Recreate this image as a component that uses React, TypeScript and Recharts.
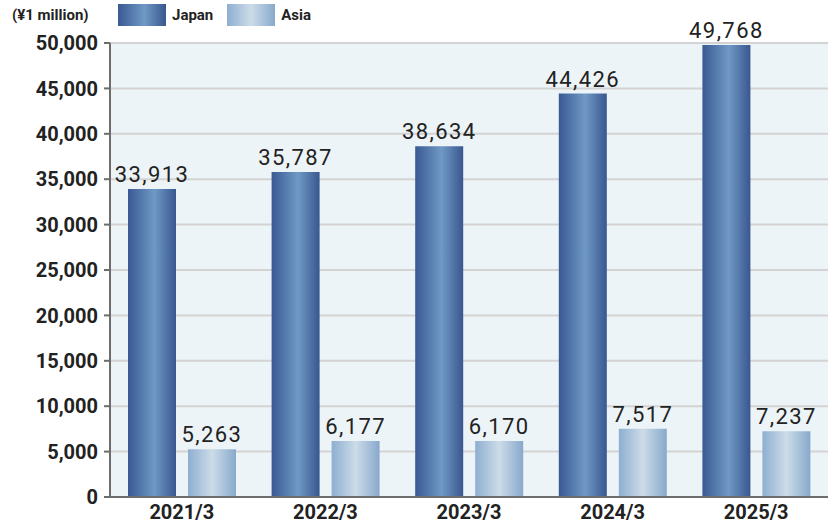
import { BarChart, Bar, XAxis, YAxis, CartesianGrid, LabelList } from 'recharts';

const years = ['2021/3', '2022/3', '2023/3', '2024/3', '2025/3'];
const japan = [33913, 35787, 38634, 44426, 49768];
const asia = [5263, 6177, 6170, 7517, 7237];
const yTicks = [0, 5000, 10000, 15000, 20000, 25000, 30000, 35000, 40000, 45000, 50000];
const bandTicks = [0, 1, 2, 3, 4, 5];

const data = years.map((year, i) => ({ year, Japan: japan[i], Asia: asia[i] }));

const FONT = 'Roboto, "Noto Sans", sans-serif';
const fmt = (v: number) => v.toLocaleString('en-US');

function Swatch({ id }: { id: string }) {
  return (
    <svg width={48} height={22} style={{ display: 'block' }}>
      <rect width={48} height={22} fill={`url(#${id})`} />
    </svg>
  );
}

export default function App() {
  return (
    <div style={{ position: 'absolute', left: 0, top: 0, width: 830, height: 530, fontFamily: FONT, background: '#fff' }}>
      <svg width={0} height={0} style={{ position: 'absolute' }}>
        <defs>
          <linearGradient id="gJapan" x1="0" y1="0" x2="1" y2="0">
            <stop offset="0%" stopColor="#395993" />
            <stop offset="55%" stopColor="#7099c5" />
            <stop offset="100%" stopColor="#38578f" />
          </linearGradient>
          <linearGradient id="gAsia" x1="0" y1="0" x2="1" y2="0">
            <stop offset="0%" stopColor="#8eaed1" />
            <stop offset="50%" stopColor="#ccdce8" />
            <stop offset="100%" stopColor="#88a9cc" />
          </linearGradient>
        </defs>
      </svg>

      <div style={{ position: 'absolute', left: 12, top: 5, fontSize: 15, fontWeight: 700, color: '#222', lineHeight: '20px' }}>
        (¥1 million)
      </div>
      <div style={{ position: 'absolute', left: 118, top: 4, display: 'flex', alignItems: 'center' }}>
        <Swatch id="gJapan" />
        <span style={{ fontSize: 15, fontWeight: 700, color: '#222', marginLeft: 6, marginRight: 14 }}>Japan</span>
        <Swatch id="gAsia" />
        <span style={{ fontSize: 15, fontWeight: 700, color: '#222', marginLeft: 6 }}>Asia</span>
      </div>

      <BarChart
        width={830}
        height={530}
        data={data}
        margin={{ top: 43, right: 2, bottom: 0, left: 0 }}
        barGap={12}
        barSize={48}
      >
        <CartesianGrid vertical={false} fill="#edf4f7" stroke="#d3d3d3" strokeWidth={2} />
        <XAxis
          xAxisId="band"
          type="number"
          domain={[0, 5]}
          ticks={bandTicks}
          interval={0}
          height={0}
          tick={false}
          axisLine={false}
          tickSize={8}
          tickLine={{ stroke: '#6d6d6d', strokeWidth: 2 }}
          allowDataOverflow
        />
        <XAxis
          dataKey="year"
          height={33}
          tickLine={false}
          axisLine={{ stroke: '#6d6d6d', strokeWidth: 2 }}
          tick={{ fill: '#222', fontSize: 20, fontWeight: 700, fontFamily: FONT }}
          tickMargin={2}
        />
        <YAxis
          width={110}
          domain={[0, 50000]}
          ticks={yTicks}
          interval={0}
          tickFormatter={fmt}
          tickSize={6}
          tickMargin={6}
          axisLine={{ stroke: '#6d6d6d', strokeWidth: 2 }}
          tickLine={{ stroke: '#6d6d6d', strokeWidth: 2 }}
          tick={{ fill: '#222', fontSize: 20, fontWeight: 700, fontFamily: FONT }}
        />
        <Bar dataKey="Japan" fill="url(#gJapan)" isAnimationActive={false}>
          <LabelList
            dataKey="Japan"
            position="top"
            offset={7}
            formatter={(v: any) => fmt(Number(v))}
            style={{ fill: '#222', fontSize: 22, fontFamily: FONT, letterSpacing: 1.4 }}
          />
        </Bar>
        <Bar dataKey="Asia" fill="url(#gAsia)" isAnimationActive={false}>
          <LabelList
            dataKey="Asia"
            position="top"
            offset={7}
            formatter={(v: any) => fmt(Number(v))}
            style={{ fill: '#222', fontSize: 22, fontFamily: FONT, letterSpacing: 1.4 }}
          />
        </Bar>
      </BarChart>
    </div>
  );
}
